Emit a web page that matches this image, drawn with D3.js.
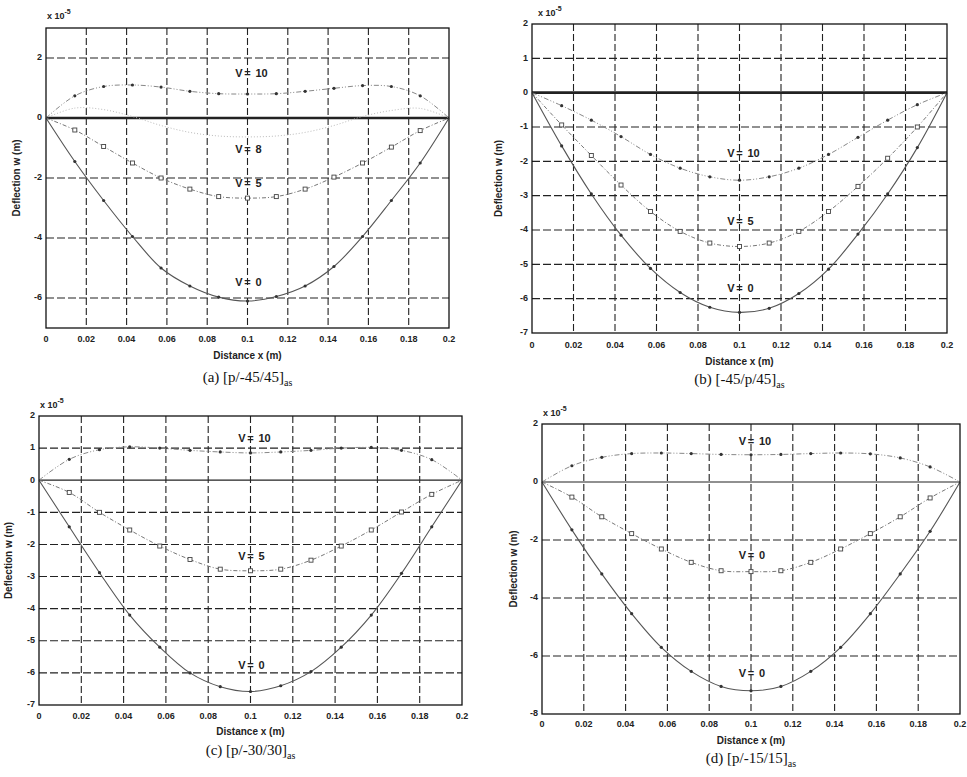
<!DOCTYPE html>
<html>
<head>
<meta charset="utf-8">
<script src="https://cdn.jsdelivr.net/npm/d3@7/dist/d3.min.js"></script>
<style>
  body { margin: 0; background: #fff; }
  svg { display: block; }
  .tick-lbl { font-family: "Liberation Sans", Arial, sans-serif; font-size: 9px; font-weight: bold; fill: #222; }
  .ax-title { font-family: "Liberation Sans", Arial, sans-serif; font-size: 10px; font-weight: bold; fill: #222; }
  .v-lbl { font-family: "Liberation Sans", Arial, sans-serif; font-size: 11px; font-weight: bold; fill: #222; }
  .caption { font-family: "Liberation Serif", "Times New Roman", serif; font-size: 15px; fill: #111; }
</style>
</head>
<body>
<svg id="chart" width="967" height="777"></svg>
<script>
// positions along the plate (m), same for every curve
const xPoints = [0, 0.0143, 0.0286, 0.0429, 0.0571, 0.0714, 0.0857, 0.1, 0.1143, 0.1286, 0.1429, 0.1571, 0.1714, 0.1857, 0.2];
const xTicks = [0, 0.02, 0.04, 0.06, 0.08, 0.1, 0.12, 0.14, 0.16, 0.18, 0.2];

// deflections, in units of 1e-5 m
// (a) [p/-45/45]as
const a_V0  = [0, -1.45, -2.75, -3.95, -5.0, -5.6, -5.97, -6.1, -5.95, -5.6, -4.95, -3.95, -2.75, -1.5, 0];
const a_V5  = [0, -0.4, -0.95, -1.5, -2.0, -2.37, -2.62, -2.67, -2.62, -2.37, -1.97, -1.5, -0.97, -0.42, 0];
const a_V8  = [0, 0.33, 0.28, 0.05, -0.25, -0.48, -0.6, -0.63, -0.6, -0.48, -0.25, 0.05, 0.25, 0.32, 0];
const a_V10 = [0, 0.74, 1.05, 1.1, 1.03, 0.89, 0.81, 0.8, 0.81, 0.89, 0.99, 1.08, 1.05, 0.74, 0];
// (b) [-45/p/45]as
const b_V0  = [0, -1.55, -2.95, -4.15, -5.12, -5.82, -6.25, -6.4, -6.28, -5.85, -5.14, -4.12, -2.95, -1.6, 0];
const b_V5  = [0, -0.94, -1.83, -2.69, -3.46, -4.04, -4.38, -4.48, -4.38, -4.04, -3.46, -2.73, -1.91, -1.0, 0];
const b_V10 = [0, -0.38, -0.8, -1.28, -1.8, -2.2, -2.45, -2.55, -2.45, -2.2, -1.8, -1.3, -0.8, -0.35, 0];
// (c) [p/-30/30]as
const c_V0  = [0, -1.45, -2.88, -4.2, -5.2, -6.0, -6.43, -6.58, -6.4, -5.96, -5.2, -4.2, -2.9, -1.45, 0];
const c_V5  = [0, -0.38, -1.0, -1.55, -2.05, -2.47, -2.77, -2.82, -2.77, -2.49, -2.05, -1.55, -0.99, -0.44, 0];
const c_V10 = [0, 0.65, 0.95, 1.04, 1.0, 0.93, 0.88, 0.85, 0.88, 0.93, 1.0, 1.02, 0.93, 0.64, 0];
// (d) [p/-15/15]as
const d_V0  = [0, -1.65, -3.17, -4.54, -5.7, -6.53, -7.05, -7.2, -7.05, -6.53, -5.7, -4.54, -3.17, -1.7, 0];
const d_V5  = [0, -0.52, -1.2, -1.78, -2.31, -2.77, -3.06, -3.09, -3.06, -2.77, -2.31, -1.78, -1.2, -0.55, 0];
const d_V10 = [0, 0.56, 0.85, 0.98, 1.0, 0.98, 0.95, 0.94, 0.95, 0.98, 1.0, 0.97, 0.83, 0.52, 0];

// y tick labels per panel
const a_yTicks = [2, 0, -2, -4, -6];
const b_yTicks = [2, 1, 0, -1, -2, -3, -4, -5, -6, -7];
const c_yTicks = [2, 1, 0, -1, -2, -3, -4, -5, -6, -7];
const d_yTicks = [2, 0, -2, -4, -6, -8];

// curve labels: text and where they sit (y in data units)
const a_labels = [["10", 1.47], ["8", -1.07], ["5", -2.2], ["0", -5.5]];
const b_labels = [["10", -1.79], ["5", -3.76], ["0", -5.72]];
const c_labels = [["10", 1.28], ["5", -2.39], ["0", -5.8]];
const d_labels = [["10", 1.38], ["0", -2.56], ["0", -6.64]];

const captions = [
  ["(a) [p/-45/45]", "as"],
  ["(b) [-45/p/45]", "as"],
  ["(c) [p/-30/30]", "as"],
  ["(d) [p/-15/15]", "as"]
];

// line styles
const styles = {
  V0:  { stroke: "#555", dash: null, width: 1.1, marker: "dot" },
  V5:  { stroke: "#777", dash: "4,2,1,2", width: 1, marker: "square" },
  V8:  { stroke: "#bbb", dash: "1,2", width: 1, marker: null },
  V10: { stroke: "#888", dash: "5,2,1,2,1,2", width: 1, marker: "dot" }
};

const panels = [
  { box: [46, 449, 28, 328], yDom: [-7, 3], yTicks: a_yTicks, grid: [2, 0, -2, -4, -6], zeroBold: true,
    series: [["V0", a_V0], ["V5", a_V5], ["V8", a_V8], ["V10", a_V10]], labels: a_labels, cap: captions[0],
    tickY: 340, titleY: 356, capY: 382, ylabX: 17, expo: [47, 19] },
  { box: [532, 947, 24, 333], yDom: [-7, 2], yTicks: b_yTicks, grid: [1, 0, -1, -2, -3, -4, -5, -6], zeroBold: true,
    series: [["V0", b_V0], ["V5", b_V5], ["V10", b_V10]], labels: b_labels, cap: captions[1],
    tickY: 346, titleY: 362, capY: 384, ylabX: 499, expo: [538, 16] },
  { box: [39, 462, 416, 705], yDom: [-7, 2], yTicks: c_yTicks, grid: [1, 0, -1, -2, -3, -4, -5, -6], zeroBold: false,
    series: [["V0", c_V0], ["V5", c_V5], ["V10", c_V10]], labels: c_labels, cap: captions[2],
    tickY: 717, titleY: 732, capY: 755, ylabX: 9, expo: [40, 408] },
  { box: [542, 960, 424, 714], yDom: [-8, 2], yTicks: d_yTicks, grid: [0, -2, -4, -6], zeroBold: false,
    series: [["V0", d_V0], ["V5", d_V5], ["V10", d_V10]], labels: d_labels, cap: captions[3],
    tickY: 725, titleY: 741, capY: 763, ylabX: 514, expo: [543, 416] }
];

const svg = d3.select("#chart");

panels.forEach(p => {
  const [L, R, T, B] = p.box;
  const x = d3.scaleLinear().domain([0, 0.2]).range([L, R]);
  const y = d3.scaleLinear().domain(p.yDom).range([B, T]);
  const g = svg.append("g");

  // vertical grid
  g.selectAll(".vg").data(xTicks.slice(1, -1)).join("line")
    .attr("x1", d => x(d)).attr("x2", d => x(d))
    .attr("y1", T).attr("y2", B)
    .attr("stroke", "#222").attr("stroke-width", 1.1)
    .attr("stroke-dasharray", "7,3");

  // horizontal grid
  g.selectAll(".hg").data(p.grid).join("line")
    .attr("x1", L).attr("x2", R)
    .attr("y1", d => y(d)).attr("y2", d => y(d))
    .attr("stroke", "#222")
    .attr("stroke-width", d => d === 0 ? (p.zeroBold ? 2.6 : 1.2) : 1.1)
    .attr("stroke-dasharray", d => d === 0 ? null : "8,3");

  // curves
  const line = d3.line()
    .x((d, i) => x(xPoints[i]))
    .y(d => y(d))
    .curve(d3.curveCatmullRom);

  p.series.forEach(([key, vals]) => {
    const s = styles[key];
    g.append("path")
      .attr("d", line(vals))
      .attr("fill", "none")
      .attr("stroke", s.stroke)
      .attr("stroke-width", s.width)
      .attr("stroke-dasharray", s.dash);
    const pts = vals.map((v, i) => [xPoints[i], v]).slice(1, -1);
    if (s.marker === "dot") {
      g.selectAll(null).data(pts).join("circle")
        .attr("cx", d => x(d[0])).attr("cy", d => y(d[1]))
        .attr("r", 1.6).attr("fill", "#333");
    } else if (s.marker === "square") {
      g.selectAll(null).data(pts).join("rect")
        .attr("x", d => x(d[0]) - 2).attr("y", d => y(d[1]) - 2)
        .attr("width", 4).attr("height", 4)
        .attr("fill", "#fff").attr("stroke", "#444").attr("stroke-width", 0.9);
    }
  });

  // axes box
  g.append("rect")
    .attr("x", L).attr("y", T).attr("width", R - L).attr("height", B - T)
    .attr("fill", "none").attr("stroke", "#111").attr("stroke-width", 1.3);

  // x tick labels
  g.selectAll(".xt").data(xTicks).join("text")
    .attr("class", "tick-lbl")
    .attr("x", d => x(d)).attr("y", p.tickY)
    .attr("text-anchor", "middle").attr("dominant-baseline", "middle")
    .text(d => d3.format("~g")(d));

  // y tick labels
  g.selectAll(".yt").data(p.yTicks).join("text")
    .attr("class", "tick-lbl")
    .attr("x", L - 4).attr("y", d => y(d))
    .attr("text-anchor", "end").attr("dominant-baseline", "middle")
    .text(d => d);

  // exponent
  const ex = g.append("text").attr("class", "tick-lbl")
    .attr("x", p.expo[0]).attr("y", p.expo[1]);
  ex.append("tspan").text("x 10");
  ex.append("tspan").attr("dy", -5).attr("font-size", 7).text("-5");

  // axis titles
  g.append("text").attr("class", "ax-title")
    .attr("x", (L + R) / 2).attr("y", p.titleY)
    .attr("text-anchor", "middle").attr("dominant-baseline", "middle")
    .text("Distance x (m)");
  g.append("text").attr("class", "ax-title")
    .attr("transform", `translate(${p.ylabX},${(T + B) / 2}) rotate(-90)`)
    .attr("text-anchor", "middle").attr("dominant-baseline", "middle")
    .text("Deflection w (m)");

  // curve labels, "=" sits on the x = 0.1 grid line
  p.labels.forEach(([v, yy]) => {
    const cx = x(0.1), cy = y(yy);
    g.append("text").attr("class", "v-lbl").attr("x", cx - 5).attr("y", cy)
      .attr("text-anchor", "end").attr("dominant-baseline", "middle").text("V");
    g.append("text").attr("class", "v-lbl").attr("x", cx).attr("y", cy)
      .attr("text-anchor", "middle").attr("dominant-baseline", "middle").text("=");
    g.append("text").attr("class", "v-lbl").attr("x", cx + 8).attr("y", cy)
      .attr("text-anchor", "start").attr("dominant-baseline", "middle").text(v);
  });

  // caption
  const cap = g.append("text").attr("class", "caption")
    .attr("x", (L + R) / 2).attr("y", p.capY).attr("text-anchor", "middle");
  cap.append("tspan").text(p.cap[0]);
  cap.append("tspan").attr("dy", 4).attr("font-size", 10).text(p.cap[1]);
});
</script>
</body>
</html>
